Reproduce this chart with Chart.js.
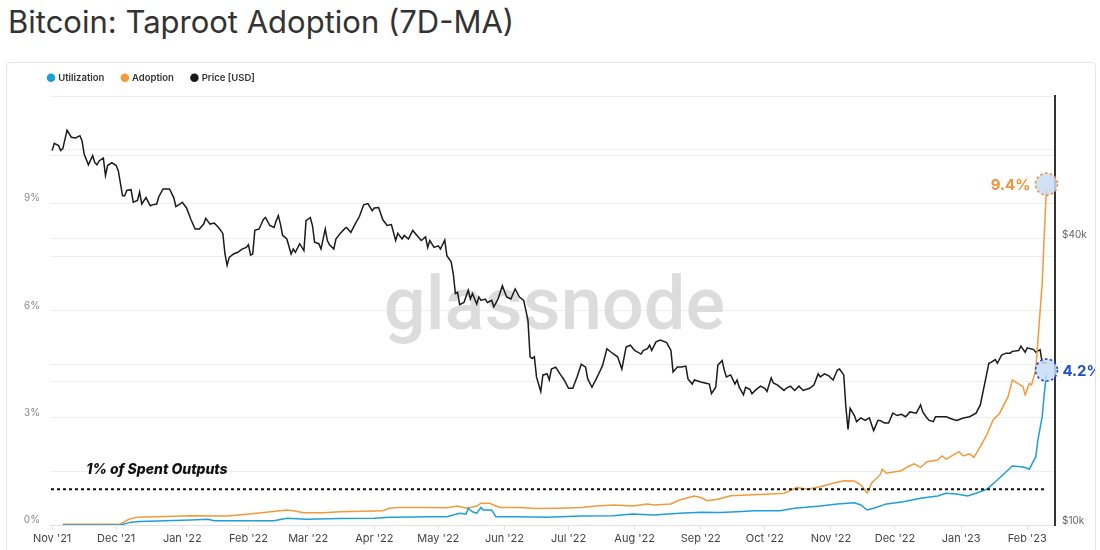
<!DOCTYPE html>
<html><head><meta charset="utf-8">
<script src="https://cdn.jsdelivr.net/npm/chart.js@4.4.0/dist/chart.umd.min.js"></script>
<style>
html,body{margin:0;padding:0;background:#fff;width:1100px;height:550px;overflow:hidden;font-family:Inter,"Noto Sans",sans-serif;}
#title{position:absolute;left:8px;top:3px;font-size:31px;line-height:38px;color:#333;font-weight:400;white-space:nowrap;}
#card{position:absolute;left:6px;top:62px;width:1088px;height:492px;border:1px solid #e6e6e6;border-radius:4px;}
#chart{position:absolute;left:7px;top:63px;width:1088px;height:487px;}
</style></head><body>
<div id="title">Bitcoin: Taproot Adoption (7D-MA)</div>
<div id="card"></div>
<canvas id="chart" width="1088" height="487"></canvas>
<script>
// x values are days since 2021-11-01
const monthTickDays = [0,30,61,92,120,151,181,212,242,273,304,334,365,395,426,457];
const monthLabels = ["Nov '21","Dec '21","Jan '22","Feb '22","Mar '22","Apr '22","May '22","Jun '22","Jul '22","Aug '22","Sep '22","Oct '22","Nov '22","Dec '22","Jan '23","Feb '23"];
const pctTickValues = [0,1.5,3,4.5,6,7.5,9,10.5,12];
const pctTickLabels = {0:'0%',3:'3%',6:'6%',9:'9%'};
const priceTickValues = [10,20,40,60,80];
const priceTickLabels = {10:'$10k',40:'$40k'};
const seriesNames = ['Utilization','Adoption','Price [USD]'];
const endLabels = ['4.2%','9.4%'];
const thresholdValue = 1;
const thresholdText = '1% of Spent Outputs';

// Price [USD], thousands
const priceK = [[0,61.4],[1,63.6],[3,62.9],[4,61.4],[5,62.0],[7,67.8],[9,65.5],[11,65.3],[13,66.0],[14,64.4],[15,60.4],[17,57.3],[19,59.9],[20,57.9],[21,57.3],[22,58.4],[24,59.2],[25,54.4],[26,57.1],[28,57.9],[30,57.1],[31,55.7],[33,49.3],[34,49.3],[35,50.6],[37,50.8],[38,47.8],[40,48.2],[41,50.2],[42,47.4],[44,48.9],[46,47.0],[47,47.2],[49,47.4],[50,49.1],[52,51.0],[55,51.0],[57,48.9],[58,46.8],[60,47.4],[61,47.8],[63,46.5],[65,44.0],[67,42.0],[69,42.0],[71,43.0],[72,44.2],[74,43.0],[76,43.2],[78,42.3],[80,41.1],[81,37.2],[82,35.2],[83,36.6],[85,37.2],[87,37.5],[89,38.1],[91,38.4],[92,38.9],[93,37.0],[94,37.2],[95,41.7],[97,42.0],[99,44.0],[100,44.4],[102,42.7],[104,42.3],[105,43.7],[106,44.8],[107,43.0],[108,40.7],[110,40.0],[112,37.2],[113,38.1],[114,37.5],[116,39.1],[118,37.8],[119,43.7],[121,44.4],[122,42.7],[123,39.4],[125,39.1],[126,38.1],[128,42.0],[129,39.7],[130,38.9],[132,38.1],[133,40.0],[135,41.1],[137,42.0],[138,42.3],[140,41.3],[142,43.0],[144,44.6],[146,47.2],[148,47.5],[150,45.9],[151,46.5],[153,46.6],[155,43.9],[157,42.7],[159,42.9],[161,39.7],[162,41.1],[164,40.0],[165,40.7],[167,40.0],[169,41.7],[171,40.7],[173,39.7],[175,40.4],[176,38.4],[177,39.7],[179,38.4],[181,38.7],[182,38.1],[184,39.8],[185,36.9],[187,35.8],[188,33.8],[189,30.7],[190,30.9],[191,29.1],[193,29.4],[195,31.2],[196,29.9],[197,30.7],[199,29.2],[200,30.2],[201,29.7],[203,29.9],[204,29.4],[206,29.7],[207,28.8],[209,29.9],[211,31.9],[213,30.2],[215,29.9],[217,31.4],[219,30.2],[221,29.7],[223,27.0],[224,22.6],[225,22.4],[226,22.6],[227,20.5],[229,19.1],[230,20.7],[232,20.8],[233,20.2],[234,21.3],[236,21.5],[238,20.8],[240,20.2],[242,19.4],[244,19.4],[246,20.5],[248,21.8],[250,21.5],[251,20.3],[253,19.5],[255,20.3],[257,21.2],[258,21.7],[260,23.5],[262,23.1],[265,22.6],[267,21.3],[269,23.7],[271,23.9],[273,23.3],[276,22.9],[277,23.3],[279,23.5],[280,23.9],[281,23.3],[283,24.3],[285,24.5],[288,24.2],[290,23.3],[291,21.0],[293,21.5],[295,21.5],[297,21.6],[298,20.3],[300,19.8],[301,20.2],[304,20.0],[306,19.9],[308,19.8],[309,18.9],[311,19.5],[312,21.7],[314,22.2],[315,21.2],[316,20.5],[318,20.7],[320,19.8],[321,20.2],[322,19.5],[324,18.8],[325,19.5],[327,19.3],[328,18.9],[330,19.3],[332,19.6],[334,19.4],[335,19.1],[337,20.4],[338,19.9],[340,19.7],[343,19.2],[344,19.4],[346,19.6],[348,19.2],[350,19.6],[352,19.2],[355,19.4],[357,19.7],[359,20.8],[360,20.5],[362,20.8],[364,20.6],[366,20.2],[368,21.2],[369,21.3],[371,20.7],[372,17.7],[373,15.9],[374,17.6],[376,17.0],[377,16.5],[379,16.8],[381,16.6],[383,16.8],[385,15.8],[387,16.6],[388,16.6],[390,16.4],[392,16.4],[394,17.2],[396,17.0],[398,17.1],[400,16.9],[402,17.3],[405,17.2],[407,17.9],[408,17.3],[410,16.8],[411,16.6],[413,16.5],[414,16.9],[417,16.9],[419,16.9],[422,16.7],[424,16.6],[427,16.8],[430,16.9],[433,17.2],[435,17.9],[437,19.8],[439,21.9],[440,22.0],[442,22.3],[443,21.9],[445,22.8],[447,23.0],[449,23.0],[450,23.2],[453,23.3],[454,23.8],[456,23.1],[457,23.6],[460,23.4],[461,23.1],[463,23.4],[464,22.0],[466,21.9]];

// Adoption, %
const adoptionPct = [[5,0.02],[32,0.03],[36,0.16],[40,0.22],[49,0.23],[65,0.26],[82,0.25],[96,0.33],[110,0.42],[113,0.40],[118,0.34],[127,0.34],[135,0.37],[151,0.39],[155,0.40],[158,0.47],[162,0.49],[169,0.49],[177,0.49],[185,0.48],[190,0.53],[194,0.47],[196,0.49],[199,0.53],[201,0.61],[205,0.61],[208,0.53],[210,0.49],[219,0.49],[227,0.46],[237,0.47],[248,0.49],[255,0.53],[263,0.56],[272,0.53],[279,0.59],[282,0.56],[290,0.59],[294,0.70],[301,0.81],[304,0.77],[307,0.68],[312,0.72],[318,0.82],[326,0.84],[337,0.87],[343,0.89],[349,1.05],[354,1.00],[360,1.07],[366,1.17],[371,1.24],[376,1.23],[379,1.12],[382,0.90],[384,1.17],[388,1.40],[389,1.56],[391,1.45],[398,1.52],[401,1.63],[404,1.71],[407,1.61],[410,1.77],[415,1.82],[417,1.93],[419,1.84],[425,2.05],[427,1.93],[430,1.99],[432,1.89],[435,2.19],[438,2.52],[441,2.94],[444,3.12],[448,3.59],[450,4.06],[452,3.98],[455,3.87],[456,3.64],[458,3.96],[459,3.92],[461,4.34],[462,5.17],[464,6.76],[465,8.16],[466,9.45]];

// Utilization, %
const utilizationPct = [[5,0],[32,0],[37,0.08],[41,0.10],[65,0.14],[73,0.16],[76,0.12],[104,0.12],[110,0.19],[119,0.16],[135,0.18],[151,0.19],[158,0.22],[162,0.22],[177,0.23],[185,0.23],[191,0.33],[194,0.30],[195,0.47],[197,0.37],[199,0.33],[201,0.49],[202,0.42],[206,0.42],[208,0.23],[216,0.23],[232,0.22],[248,0.25],[263,0.26],[272,0.31],[282,0.28],[294,0.33],[304,0.36],[313,0.35],[321,0.37],[329,0.40],[341,0.40],[348,0.47],[360,0.53],[368,0.59],[376,0.62],[379,0.56],[382,0.42],[385,0.47],[391,0.59],[399,0.65],[407,0.75],[415,0.81],[419,0.89],[424,0.87],[429,0.81],[433,0.89],[438,1.00],[443,1.26],[448,1.54],[450,1.65],[454,1.63],[456,1.61],[458,1.56],[459,1.68],[461,1.91],[462,2.38],[464,3.03],[465,3.68],[466,4.25]];

const COL_UTIL = '#1f9fd9', COL_ADOPT = '#f39a3a', COL_PRICE = '#1b1b1b';
const toXY = arr => arr.map(([x,y]) => ({x, y}));

const legendPad = {
  id: 'legendPad',
  beforeUpdate(chart) {
    const lg = chart.legend;
    if (lg && !lg._padPatched) {
      const f = lg.fit;
      lg.fit = function() { f.apply(this, arguments); this.height = 33; };
      const d = lg.draw;
      lg.draw = function() { const c = this.ctx; c.save(); c.translate(23.5, -8); d.apply(this, arguments); c.restore(); };
      lg._padPatched = true;
    }
  }
};

const watermark = {
  id: 'watermark',
  beforeDatasetsDraw(chart) {
    const {ctx, chartArea: a} = chart;
    ctx.save();
    ctx.font = '500 74px Roboto';
    ctx.fillStyle = '#dcdcdc';
    ctx.textAlign = 'center';
    ctx.textBaseline = 'alphabetic';
    ctx.fillText('glassnode', (a.left + a.right) / 2 + 2, a.top + 233);
    ctx.restore();
  }
};

const annotations = {
  id: 'annotations',
  afterDatasetsDraw(chart) {
    const {ctx, chartArea: a, scales} = chart;
    const xs = scales.x, ys = scales.y;
    const lastDay = adoptionPct[adoptionPct.length - 1][0];
    ctx.save();
    const yT = ys.getPixelForValue(thresholdValue);
    ctx.strokeStyle = '#111';
    ctx.lineWidth = 2;
    ctx.setLineDash([3, 3]);
    ctx.beginPath();
    ctx.moveTo(a.left + 1, yT);
    ctx.lineTo(xs.getPixelForValue(lastDay), yT);
    ctx.stroke();
    ctx.setLineDash([]);
    ctx.font = 'italic 800 14px Inter';
    ctx.fillStyle = '#111';
    ctx.textAlign = 'left';
    ctx.textBaseline = 'middle';
    ctx.fillText(thresholdText, xs.getPixelForValue(16), ys.getPixelForValue(1.55));

    const ends = [
      {pt: adoptionPct[adoptionPct.length - 1], stroke: '#f0923a', text: endLabels[1], side: 'left', color: '#f0923a'},
      {pt: utilizationPct[utilizationPct.length - 1], stroke: '#1e46c8', text: endLabels[0], side: 'right', color: '#1e4fd0'}
    ];
    ends.forEach(e => {
      const cx = xs.getPixelForValue(e.pt[0]);
      const cy = ys.getPixelForValue(e.pt[1]) - 3;
      ctx.beginPath();
      ctx.arc(cx, cy, 11, 0, Math.PI * 2);
      ctx.fillStyle = 'rgba(200,218,244,0.85)';
      ctx.fill();
      ctx.setLineDash([2.5, 2.5]);
      ctx.lineWidth = 1.6;
      ctx.strokeStyle = e.stroke;
      ctx.stroke();
      ctx.setLineDash([]);
      ctx.font = 'bold 15px Inter';
      ctx.fillStyle = e.color;
      ctx.textBaseline = 'middle';
      if (e.side === 'left') { ctx.textAlign = 'right'; ctx.fillText(e.text, cx - 16, cy + 1); }
      else { ctx.textAlign = 'left'; ctx.fillText(e.text, cx + 16, cy + 1); }
    });
    ctx.restore();
  }
};

new Chart(document.getElementById('chart'), {
  type: 'line',
  data: {
    datasets: [
      {label: seriesNames[0], data: toXY(utilizationPct), yAxisID: 'y', borderColor: COL_UTIL, backgroundColor: COL_UTIL, borderWidth: 1.5, pointRadius: 0, tension: 0},
      {label: seriesNames[1], data: toXY(adoptionPct), yAxisID: 'y', borderColor: COL_ADOPT, backgroundColor: COL_ADOPT, borderWidth: 1.5, pointRadius: 0, tension: 0},
      {label: seriesNames[2], data: toXY(priceK), yAxisID: 'y1', borderColor: COL_PRICE, backgroundColor: COL_PRICE, borderWidth: 1.5, pointRadius: 0, tension: 0}
    ]
  },
  options: {
    responsive: false,
    animation: false,
    devicePixelRatio: 1,
    events: [],
    layout: {padding: {left: 0, top: 0, right: 0, bottom: 0}},
    plugins: {
      legend: {
        position: 'top', align: 'start',
        labels: {usePointStyle: true, pointStyle: 'circle', boxWidth: 5, boxHeight: 5, padding: 18,
          color: '#333', font: {family: 'Inter', size: 9.5, weight: '600'}}
      },
      tooltip: {enabled: false}
    },
    scales: {
      x: {
        type: 'linear', min: -1, max: 470,
        afterBuildTicks(s) { s.ticks = monthTickDays.map(v => ({value: v})); },
        afterFit(s) { s.height = 25; },
        ticks: {autoSkip: false, maxRotation: 0, padding: 2, color: '#444', font: {family: 'Inter', size: 11},
          callback: (v, i) => monthLabels[i]},
        grid: {drawOnChartArea: false, drawTicks: true, tickLength: 5, color: '#e2e2e2'},
        border: {color: '#e2e2e2'}
      },
      y: {
        type: 'linear', position: 'left', min: 0, max: 12,
        afterBuildTicks(s) { s.ticks = pctTickValues.map(v => ({value: v})); },
        afterFit(s) { s.width = 43; },
        ticks: {padding: 10, labelOffset: -5, color: '#888', font: {family: 'Inter', size: 10},
          callback: v => pctTickLabels[v] || ''},
        grid: {color: '#eeeeee', drawTicks: false},
        border: {display: false}
      },
      y1: {
        type: 'logarithmic', position: 'right', min: 10, max: 80,
        afterBuildTicks(s) { s.ticks = priceTickValues.map(v => ({value: v})); },
        afterFit(s) { s.width = 40; },
        ticks: {padding: 7, labelOffset: -4, color: '#666', font: {family: 'Inter', size: 10},
          callback: v => priceTickLabels[v] || ''},
        grid: {color: '#eeeeee', drawTicks: false},
        border: {display: true, color: '#333', width: 2}
      }
    }
  },
  plugins: [legendPad, watermark, annotations]
});
</script>
</body></html>
